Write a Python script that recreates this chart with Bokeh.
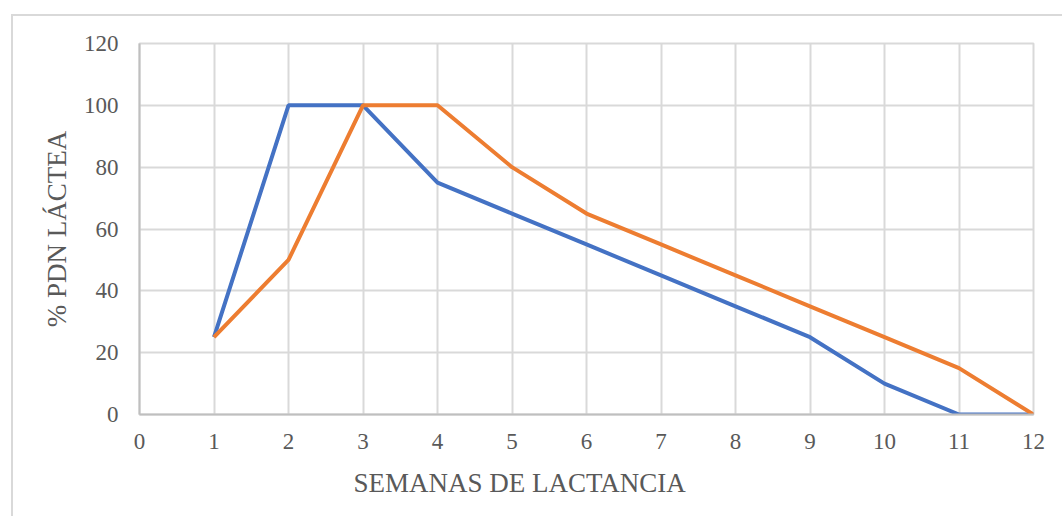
from bokeh.plotting import figure
from bokeh.models import Range1d, FixedTicker, Title
from bokeh.embed import file_html
from bokeh.resources import INLINE

weeks = [1, 2, 3, 4, 5, 6, 7, 8, 9, 10, 11, 12]
blue_series = [25, 100, 100, 75, 65, 55, 45, 35, 25, 10, 0, 0]
orange_series = [25, 50, 100, 100, 80, 65, 55, 45, 35, 25, 15, 0]
x_ticks = list(range(0, 13))
y_ticks = [0, 20, 40, 60, 80, 100, 120]

FONT = "Liberation Serif"

p = figure(width=1051, height=502, output_backend="svg", toolbar_location=None,
           x_range=Range1d(0, 12), y_range=Range1d(0, 120),
           min_border_left=126, min_border_right=31, min_border_top=27, min_border_bottom=104,
           margin=(14, 0, 0, 11),
           styles={"border-left": "2px solid #d9d9d9", "border-top": "2px solid #d9d9d9"})

p.line(weeks, blue_series, line_color="#4472C4", line_width=4)
p.line(weeks, orange_series, line_color="#ED7D31", line_width=4)

p.xaxis.ticker = FixedTicker(ticks=x_ticks)
p.yaxis.ticker = FixedTicker(ticks=y_ticks)
for ax in (p.xaxis[0], p.yaxis[0]):
    ax.major_tick_out = 0
    ax.major_tick_in = 0
    ax.minor_tick_out = 0
    ax.minor_tick_in = 0
    ax.axis_line_color = "#bfbfbf"
    ax.axis_line_width = 2
    ax.major_label_text_font = FONT
    ax.major_label_text_font_size = "23px"
    ax.major_label_text_color = "#595959"
    ax.axis_label_text_font = FONT
    ax.axis_label_text_font_size = "27px"
    ax.axis_label_text_color = "#595959"
    ax.axis_label_text_font_style = "normal"

p.xaxis.major_label_standoff = 19
p.yaxis.major_label_standoff = 21
p.yaxis.axis_label = "% PDN LÁCTEA"
p.yaxis.axis_label_standoff = 9

xtitle = Title(text="SEMANAS DE LACTANCIA", align="left", offset=214, standoff=29,
               text_font=FONT, text_font_size="27px", text_color="#595959",
               text_font_style="normal")
p.add_layout(xtitle, "below")

p.xgrid.grid_line_color = "#d9d9d9"
p.ygrid.grid_line_color = "#d9d9d9"
p.xgrid.grid_line_width = 2
p.ygrid.grid_line_width = 2
p.outline_line_color = "#d9d9d9"
p.outline_line_width = 2
p.background_fill_color = "white"
p.border_fill_color = "white"

open("out.html", "w").write(file_html(p, INLINE))
